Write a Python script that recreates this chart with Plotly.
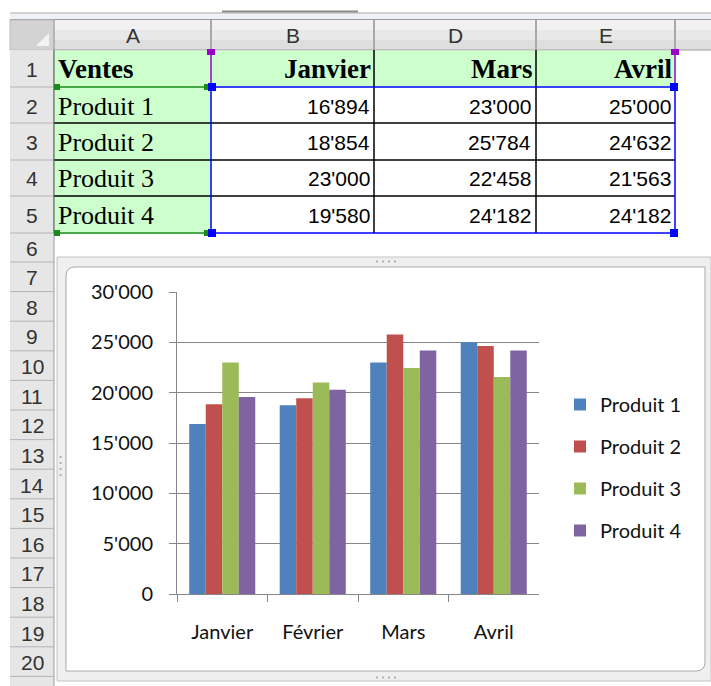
import plotly.graph_objects as go

# ---------------- data ----------------
mois = ["Janvier", "Février", "Mars", "Avril"]
produits = ["Produit 1", "Produit 2", "Produit 3", "Produit 4"]
produit1 = [16894, 18750, 23000, 25000]
produit2 = [18854, 19450, 25784, 24632]
produit3 = [23000, 21000, 22458, 21563]
produit4 = [19580, 20300, 24182, 24182]
series = [produit1, produit2, produit3, produit4]
couleurs = ["#4F81BD", "#C0504D", "#9BBB59", "#8064A2"]

# spreadsheet: visible columns (column C = Février is hidden)
col_letters = ["A", "B", "D", "E"]
table_months_idx = [0, 2, 3]
row_labels = [str(i) for i in range(1, 21)]
y_ticks = [0, 5000, 10000, 15000, 20000, 25000, 30000]

W, H = 711, 686


def X(px):
    return px / W


def Y(py):
    return 1 - py / H


shapes = []


def rect(x0, y0, x1, y1, fill, line=None, lw=0):
    shapes.append(dict(type="rect", xref="paper", yref="paper",
                       x0=X(x0), x1=X(x1), y0=Y(y1), y1=Y(y0),
                       fillcolor=fill, line=dict(width=lw, color=line or fill),
                       layer="below"))


def hline(x0, x1, y, color, w=1):
    shapes.append(dict(type="line", xref="paper", yref="paper",
                       x0=X(x0), x1=X(x1), y0=Y(y), y1=Y(y),
                       line=dict(width=w, color=color), layer="below"))


def vline(x, y0, y1, color, w=1):
    shapes.append(dict(type="line", xref="paper", yref="paper",
                       x0=X(x), x1=X(x), y0=Y(y0), y1=Y(y1),
                       line=dict(width=w, color=color), layer="below"))


annotations = []


def ann(text, x, y, xanchor="center", size=20, family="Liberation Sans",
        color="#000000"):
    annotations.append(dict(text=text, x=X(x), y=Y(y), xref="paper", yref="paper",
                            xanchor=xanchor, yanchor="middle", showarrow=False,
                            font=dict(size=size, family=family, color=color)))


def fmt(v):
    return f"{v:,}".replace(",", "'")


# ---------------- spreadsheet chrome ----------------
# top strip
hline(10, 711, 13, "#a4a4a4", 1)
rect(10, 14, 711, 19, "#eef1f6")
hline(10, 711, 19.5, "#9a9a9a", 1)
hline(222, 358, 11.5, "#8a8a8a", 2)

# column header row
col_x = [54, 211, 374, 536, 675, 711]
rect(54, 20, 711, 30, "#f1f1f1")
rect(54, 30, 711, 40, "#e8e8e8")
rect(54, 40, 711, 50, "#dedede")
hline(10, 711, 50, "#9c9c9c", 1)
for cx in col_x[1:-1]:
    vline(cx, 20, 50, "#a8a8a8", 2)
for i, letter in enumerate(col_letters):
    ann(letter, (col_x[i] + col_x[i + 1]) / 2, 35.5, size=21, color="#333333")

# corner cell
rect(10, 20, 54, 50, "#d3d3d3", "#bdbdbd", 1)
shapes.append(dict(type="path", xref="paper", yref="paper", layer="below",
                   path=f"M{X(49)},{Y(33)} L{X(49)},{Y(46)} L{X(36)},{Y(46)} Z",
                   fillcolor="#f4f4f4", line=dict(width=0)))

# row header column
row_b = [50, 87, 123, 160, 196, 233, 262] + [262 + 29.6 * k for k in range(1, 15)] + [706]
rect(10, 50, 54, 686, "#e6e6e6")
vline(54, 20, 686, "#9c9c9c", 1)
for yb in row_b[1:]:
    hline(10, 54, yb, "#b4b4b4", 1)
for i, lab in enumerate(row_labels):
    ann(lab, 32, (row_b[i] + row_b[i + 1]) / 2 + 1, size=21, color="#333333")

# green cell fills
rect(54, 50.5, 211, 233, "#ccffcc")
rect(211, 50.5, 675, 87, "#ccffcc")

# cell borders (black)
for yb in [123, 160, 196]:
    hline(54, 675, yb, "#000000", 1.5)
for cx in [374, 536]:
    vline(cx, 50, 233, "#000000", 1.5)
vline(54, 50, 233, "#555555", 1)

# chart data range highlights
hline(56, 211, 87, "#1a8a1a", 1.5)
hline(56, 211, 233, "#1a8a1a", 1.5)
hline(211, 675, 87, "#0000ff", 1.5)
hline(211, 675, 233, "#0000ff", 1.5)
vline(211, 50, 87, "#9900cc", 1.5)
vline(675, 50, 87, "#9900cc", 1.5)
vline(211, 87, 233, "#0000ff", 1.5)
vline(675, 87, 233, "#0000ff", 1.5)
for (hx, hy) in [(211, 52), (675, 52)]:
    rect(hx - 4, hy - 3, hx + 4, hy + 3, "#9900cc")
for (hx, hy) in [(57, 87), (57, 233), (207, 87), (207, 233)]:
    rect(hx - 3, hy - 3, hx + 3, hy + 3, "#1a8a1a")
for (hx, hy) in [(212, 87), (674, 87), (212, 233), (674, 233)]:
    rect(hx - 4, hy - 4, hx + 4, hy + 4, "#0000ff")

# table texts
row_c = [(row_b[i] + row_b[i + 1]) / 2 + 1 for i in range(5)]
ann("<b>Ventes</b>", 56, row_c[0], "left", 27, "Liberation Serif")
head_x = [373, 534, 674]
num_x = [372, 533, 673]
for j, mi in enumerate(table_months_idx):
    ann(f"<b>{mois[mi]}</b>", head_x[j], row_c[0], "right", 27, "Liberation Serif")
for r, name in enumerate(produits):
    ann(name, 56, row_c[r + 1], "left", 26, "Liberation Serif")
    for j, mi in enumerate(table_months_idx):
        ann(fmt(series[r][mi]), num_x[j], row_c[r + 1], "right", 21, "Liberation Sans")

# ---------------- chart object frame ----------------
rect(57, 257, 711, 681, "#efefef", "#c4c4c4", 1)
x0, x1, y0, y1, r = 66, 705, 267, 671, 9
path = (f"M{X(x0 + r)},{Y(y0)} L{X(x1)},{Y(y0)} L{X(x1)},{Y(y1 - r)} "
        f"Q{X(x1)},{Y(y1)} {X(x1 - r)},{Y(y1)} L{X(x0)},{Y(y1)} L{X(x0)},{Y(y0 + r)} "
        f"Q{X(x0)},{Y(y0)} {X(x0 + r)},{Y(y0)} Z")
shapes.append(dict(type="path", xref="paper", yref="paper", layer="below", path=path,
                   fillcolor="#ffffff", line=dict(width=1, color="#a9a9a9")))
for k in range(4):
    rect(376 + 6 * k, 260.5, 378 + 6 * k, 262.5, "#b0b0b0")
    rect(376 + 6 * k, 676.5, 378 + 6 * k, 678.5, "#b0b0b0")
    rect(59.5, 456 + 6 * k, 61.5, 458 + 6 * k, "#b0b0b0")

# ---------------- chart ----------------
fig = go.Figure()
for name, vals, col in zip(produits, series, couleurs):
    fig.add_trace(go.Bar(x=mois, y=vals, name=name, legendgroup=name,
                         marker=dict(color=col, line=dict(width=0))))

axis_font = dict(family="Lato", size=20, color="#111111")
fig.update_layout(
    width=W, height=H, margin=dict(l=0, r=0, t=0, b=0, autoexpand=False),
    paper_bgcolor="#ffffff", plot_bgcolor="rgba(0,0,0,0)",
    separators=".'",
    barmode="group", bargap=0.27, bargroupgap=0,
    shapes=shapes, annotations=annotations,
    xaxis=dict(domain=[X(177), X(539)], showgrid=False, showline=True,
               linecolor="#868686", linewidth=1, ticks="outside", ticklen=7,
               tickcolor="#868686", tickson="boundaries", tickfont=axis_font,
               ticklabelstandoff=20, fixedrange=True, automargin=False),
    yaxis=dict(domain=[Y(594), Y(292)], range=[0, 30000], tickvals=y_ticks,
               tickformat=",d", showgrid=True, gridcolor="#868686", gridwidth=1,
               showline=True, linecolor="#868686", linewidth=1, ticks="outside",
               ticklen=7, tickcolor="#868686", tickfont=axis_font,
               ticklabelstandoff=12, zeroline=False, fixedrange=True,
               automargin=False),
    legend=dict(x=X(560), y=Y(385), xanchor="left", yanchor="top",
                font=dict(family="Lato", size=20, color="#111111"),
                bgcolor="rgba(0,0,0,0)", tracegroupgap=13, itemclick=False,
                itemdoubleclick=False),
    showlegend=True,
)

fig.write_html("out.html", include_plotlyjs=True, config={"displayModeBar": False},
               post_script="document.body.style.margin='0';document.body.style.overflow='hidden';")
